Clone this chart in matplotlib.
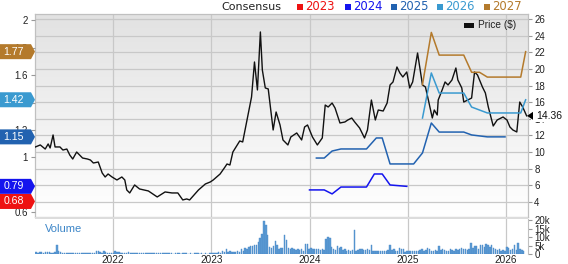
import numpy as np
import matplotlib
matplotlib.use("Agg")
import matplotlib.pyplot as plt
from matplotlib.patches import Polygon, Rectangle
from matplotlib.colors import LinearSegmentedColormap
from matplotlib.transforms import IdentityTransform

# ---------------- data ----------------
price_t = [2021.21, 2021.26, 2021.31, 2021.34, 2021.36, 2021.39, 2021.41, 2021.46, 2021.49, 2021.53,
           2021.56, 2021.59, 2021.63, 2021.66, 2021.69, 2021.74, 2021.77, 2021.80, 2021.85, 2021.89,
           2021.92, 2021.95, 2021.99, 2022.04, 2022.09, 2022.12, 2022.14, 2022.17, 2022.22, 2022.27,
           2022.36, 2022.45, 2022.53, 2022.60, 2022.66, 2022.71, 2022.75, 2022.78, 2022.87, 2022.94,
           2022.99, 2023.02, 2023.09, 2023.14, 2023.16, 2023.19, 2023.22, 2023.29, 2023.32, 2023.37,
           2023.41, 2023.44, 2023.47, 2023.50, 2023.52, 2023.55, 2023.58, 2023.63, 2023.66, 2023.70,
           2023.73, 2023.78, 2023.81, 2023.87, 2023.92, 2023.95, 2023.98, 2024.03, 2024.08, 2024.13,
           2024.16, 2024.19, 2024.23, 2024.26, 2024.31, 2024.36, 2024.39, 2024.43, 2024.46, 2024.51,
           2024.56, 2024.59, 2024.63, 2024.67, 2024.70, 2024.75, 2024.79, 2024.82, 2024.85, 2024.89,
           2024.92, 2024.95, 2024.99, 2025.02, 2025.05, 2025.10, 2025.15, 2025.18, 2025.21, 2025.25,
           2025.27, 2025.30, 2025.31, 2025.35, 2025.38, 2025.41, 2025.45, 2025.49, 2025.51, 2025.55,
           2025.57, 2025.61, 2025.65, 2025.68, 2025.71, 2025.76, 2025.79, 2025.82, 2025.87, 2025.91,
           2025.97, 2026.01, 2026.04, 2026.07, 2026.11, 2026.14, 2026.17, 2026.21]
price_v = [10.62, 10.86, 10.37, 10.98, 10.50, 12.06, 10.62, 10.62, 10.25, 10.37,
           9.65, 9.17, 10.01, 9.65, 9.29, 9.17, 9.05, 8.69, 8.81, 7.49,
           7.01, 7.37, 7.01, 6.65, 7.01, 6.65, 5.45, 5.09, 6.05, 5.57,
           5.33, 4.61, 5.21, 5.09, 5.09, 4.25, 4.37, 4.25, 5.45, 6.17,
           6.41, 6.65, 7.37, 8.21, 8.57, 8.45, 10.01, 11.34, 11.22, 14.22,
           16.62, 20.83, 17.47, 24.44, 19.87, 17.71, 17.59, 12.66, 14.82, 13.26,
           11.46, 10.86, 11.82, 12.30, 11.46, 13.02, 13.26, 11.82, 10.86, 11.70,
           15.66, 15.42, 15.90, 15.30, 13.50, 13.62, 13.86, 14.10, 13.62, 12.90,
           11.70, 12.66, 16.26, 13.86, 15.06, 14.94, 15.90, 18.07, 18.43, 20.23,
           19.51, 19.03, 19.63, 17.71, 18.43, 21.91, 18.07, 17.83, 16.26, 14.10,
           15.06, 14.46, 16.26, 17.47, 18.43, 18.07, 18.67, 20.11, 18.67, 17.71,
           16.02, 16.26, 16.50, 19.63, 19.27, 17.83, 17.11, 15.42, 13.14, 13.86,
           14.22, 13.86, 13.02, 12.66, 12.42, 16.02, 15.42, 14.36]

eps27_t = [2025.15, 2025.24, 2025.32, 2025.57, 2025.65, 2025.73, 2025.81, 2026.15, 2026.20]
eps27_v = [1.53, 1.91, 1.745, 1.745, 1.62, 1.62, 1.585, 1.585, 1.77]
eps26_t = [2025.15, 2025.24, 2025.32, 2025.57, 2025.65, 2025.81, 2026.15, 2026.20]
eps26_v = [1.287, 1.615, 1.469, 1.469, 1.367, 1.324, 1.324, 1.42]
eps25_t = [2024.07, 2024.15, 2024.23, 2024.32, 2024.58, 2024.68, 2024.74, 2024.82, 2025.06,
           2025.15, 2025.24, 2025.32, 2025.57, 2025.65, 2025.81, 2025.99]
eps25_v = [0.996, 0.996, 1.047, 1.062, 1.062, 1.142, 1.142, 0.953, 0.953,
           1.033, 1.251, 1.185, 1.185, 1.164, 1.15, 1.15]
eps24_t = [2024.00, 2024.15, 2024.23, 2024.32, 2024.58, 2024.66, 2024.74, 2024.82, 2024.99]
eps24_v = [0.764, 0.764, 0.735, 0.785, 0.785, 0.88, 0.88, 0.80, 0.79]

consensus_years = ["2023", "2024", "2025", "2026", "2027"]
consensus_last = [0.68, 0.79, 1.15, 1.42, 1.77]
last_price = 14.36

vol_start = 2021.21
vol_2021 = [1.0, 0.8, 1.2, 0.9, 0.7, 1.1, 0.9, 1.0, 0.8, 0.6, 0.9, 5.3, 1.5, 1.0, 0.8, 0.7, 0.6, 0.5, 0.6, 0.5,
            0.4, 0.5, 0.6, 0.5, 0.4, 0.5, 0.4, 0.5, 0.6, 0.5, 0.7, 0.6, 1.8, 2.0, 1.2, 0.8, 1.5, 0.9, 0.6, 0.5, 0.6]
vol_2022 = [0.8, 1.8, 1.0, 0.9, 0.7, 0.8, 0.6, 0.7, 0.9, 0.6, 0.5, 0.6, 0.5, 0.4, 0.5, 0.4, 0.6, 0.5, 0.4, 0.3,
            0.4, 0.5, 0.6, 0.4, 0.3, 0.5, 0.4, 0.3, 0.4, 0.3, 0.4, 0.3, 0.2, 0.3, 0.4, 0.3, 0.2, 0.3, 0.4, 0.3,
            0.2, 0.3, 0.2, 0.3, 0.4, 0.3, 0.2, 0.3, 0.2, 0.3, 0.2, 0.3]
vol_2023 = [0.3, 0.5, 0.4, 0.8, 1.0, 0.8, 2.0, 1.2, 3.0, 1.0, 1.5, 1.2, 1.0, 1.2, 1.5, 1.2, 3.0, 2.0, 3.5, 2.8,
            4.0, 4.5, 5.0, 5.5, 5.5, 7.0, 9.5, 12.0, 19.5, 17.0, 11.0, 4.0, 3.5, 5.0, 7.5, 5.5, 3.0, 3.5, 3.5, 11.0,
            8.0, 3.5, 3.0, 3.5, 3.0, 2.5, 3.0, 2.5, 3.0, 2.0, 6.0, 6.0]
vol_2024 = [3.0, 3.5, 3.0, 3.0, 3.0, 3.0, 2.5, 3.0, 2.5, 9.0, 10.0, 9.5, 4.0, 3.0, 2.5, 4.5, 3.5, 4.0, 2.5, 3.0,
            2.0, 2.5, 2.0, 2.5, 14.0, 2.0, 2.5, 3.0, 2.8, 2.5, 2.5, 3.0, 2.5, 5.5, 2.0, 1.5, 1.5, 1.5, 1.5, 1.8,
            1.8, 1.8, 2.5, 5.5, 2.5, 3.0, 2.0, 2.0, 3.5, 3.0, 3.0, 1.0]
vol_2025 = [1.5, 1.5, 1.5, 1.8, 1.8, 2.0, 2.0, 2.5, 3.0, 2.0, 2.5, 3.5, 3.0, 2.0, 2.0, 2.5, 2.0, 5.0, 2.5, 3.0,
            2.5, 2.0, 2.0, 3.0, 2.5, 2.0, 3.0, 2.5, 3.0, 3.5, 3.0, 3.0, 2.5, 3.0, 6.5, 3.5, 5.0, 4.5, 3.0, 5.5,
            5.5, 4.0, 6.0, 5.5, 4.0, 5.5, 3.5, 3.0, 2.5, 3.0, 2.0, 2.5]
vol_2026 = [2.0, 4.0, 3.5, 2.5, 3.0, 5.5, 2.5, 6.5, 3.0, 2.5, 2.0]

# ---------------- style ----------------
W, H = 568, 264
C23, C24, C25, C26, C27 = "#ee1111", "#1414ee", "#2262b0", "#3a9ad0", "#b47a2c"
cons_colors = [C23, C24, C25, C26, C27]
GRID = "#c8c8c8"
FONT = "Liberation Sans"
plt.rcParams["font.family"] = [FONT, "DejaVu Sans"]

fig = plt.figure(figsize=(W / 100, H / 100), dpi=100)
fig.patch.set_facecolor("white")

# main price panel
ax = fig.add_axes([35 / W, 1 - 217 / H, 493 / W, 203 / H])
grad = np.linspace(0, 1, 256).reshape(-1, 1)
cmap = LinearSegmentedColormap.from_list("g", ["#ffffff", "#e2e2e2"])
ax.imshow(grad, cmap=cmap, extent=[0, 1, 0, 1], transform=ax.transAxes,
          aspect="auto", origin="lower", zorder=0)
ax.set_xlim(2021.206, 2026.224)
ax.set_ylim(2.2, 26.6)

years = [2022, 2023, 2024, 2025, 2026]
price_ticks = list(range(4, 27, 2))
for yv in price_ticks:
    ax.axhline(yv, color=GRID, lw=0.9, zorder=1)
for xv in years:
    ax.axvline(xv, color=GRID, lw=0.9, zorder=1)
ax.plot(price_t, price_v, color="#111111", lw=1.0, zorder=3)

ax.set_xticks(years)
ax.tick_params(axis="x", length=0, labelbottom=False)
ax.set_yticks(price_ticks)
ax.yaxis.tick_right()
ax.tick_params(axis="y", length=3, width=0.8, color="#999999", pad=1.5,
               labelsize=7, labelcolor="#222222")
for s in ax.spines.values():
    s.set_color("#c0c0c0")
    s.set_linewidth(0.9)

# EPS consensus axis
ax_eps = ax.twinx()
ax_eps.set_ylim(0.567, 2.044)
ax_eps.yaxis.tick_left()
ax_eps.yaxis.set_label_position("left")
ax.yaxis.tick_right()
eps_ticks = [0.6, 0.8, 1.0, 1.2, 1.4, 1.6, 1.8, 2.0]
ax_eps.set_yticks(eps_ticks)
ax_eps.set_yticklabels(["%g" % v for v in eps_ticks])
ax_eps.tick_params(axis="y", length=3, width=0.8, color="#999999", pad=2,
                   labelsize=7, labelcolor="#222222")
for s in ax_eps.spines.values():
    s.set_visible(False)
ax_eps.plot(eps24_t, eps24_v, color=C24, lw=1.1)
ax_eps.plot(eps25_t, eps25_v, color=C25, lw=1.1)
ax_eps.plot(eps26_t, eps26_v, color=C26, lw=1.1)
ax_eps.plot(eps27_t, eps27_v, color=C27, lw=1.1)

# volume panel
vax = fig.add_axes([35 / W, 1 - 254 / H, 493 / W, 35 / H])
vol = vol_2021 + vol_2022 + vol_2023 + vol_2024 + vol_2025 + vol_2026
vol_t = vol_start + np.arange(len(vol)) / 52.18
vax.set_xlim(2021.206, 2026.224)
vax.set_ylim(0, 20.6)
for xv in years:
    vax.axvline(xv, color=GRID, lw=0.9, zorder=0)
vax.bar(vol_t, vol, width=0.75 / 52.18, color="#5b9bd5", edgecolor="#4a88c6",
        linewidth=0.3, align="edge", zorder=2)
vax.set_xticks(years)
vax.set_xticklabels([str(y) for y in years])
vax.tick_params(axis="x", length=0, pad=0.8, labelsize=7.2, labelcolor="#222222")
vax.yaxis.tick_right()
vax.set_yticks([0, 5, 10, 15, 20])
vax.set_yticklabels(["0", "5k", "10k", "15k", "20k"])
vax.tick_params(axis="y", length=3, width=0.8, color="#999999", pad=1.5,
                labelsize=7, labelcolor="#222222")
for k, s in vax.spines.items():
    s.set_visible(k == "right")
    s.set_color("#c0c0c0")
vax.text(0.02, 0.7, "Volume", transform=vax.transAxes, color="#3d86c8",
         fontsize=8, va="center", ha="left")

# separator band between panels
fig.add_artist(Rectangle((35 / W, 1 - 219 / H), 493 / W, 2.5 / H,
                         transform=fig.transFigure, facecolor="#dcdcdc",
                         edgecolor="none", zorder=5))

# consensus tags on the left
ident = IdentityTransform()
for lab_val, col in zip(consensus_last, cons_colors):
    yd = ax_eps.transData.transform((2022, lab_val))[1]
    pts = [(0, yd - 7.5), (31, yd - 7.5), (35, yd), (31, yd + 7.5), (0, yd + 7.5)]
    fig.add_artist(Polygon(pts, closed=True, transform=ident, facecolor=col,
                           edgecolor="none", zorder=6))
    fig.text(3.5 / W, yd / H, "%.2f" % lab_val, color="white", fontsize=7.6,
             va="center", ha="left", zorder=7)

# last price tag on the right
yd = ax.transData.transform((2022, last_price))[1]
fig.add_artist(Rectangle((531, yd - 6), 36, 12, transform=ident,
                         facecolor="white", edgecolor="none", zorder=6))
fig.add_artist(Polygon([(527, yd), (533, yd - 4), (533, yd + 4)], closed=True,
                       transform=ident, facecolor="black", edgecolor="none", zorder=7))
fig.text(536 / W, yd / H, "%.2f" % last_price, color="#111111", fontsize=7.5,
         va="center", ha="left", zorder=8)

# top legend
fig.text(281 / W, 1 - 6.5 / H, "Consensus", color="#222222", fontsize=8,
         family="DejaVu Sans", va="center", ha="right")
sq_x = [297, 345, 391, 437, 484]
for xs, yr, col in zip(sq_x, consensus_years, cons_colors):
    fig.add_artist(Rectangle((xs, H - 9.5), 6, 6, transform=ident,
                             facecolor=col, edgecolor="none"))
    fig.text((xs + 8.5) / W, 1 - 6.5 / H, yr, color=col, fontsize=8.4,
             family="DejaVu Sans", va="center", ha="left")

# price legend inside plot
fig.add_artist(Rectangle((464, H - 28), 10, 5, transform=ident,
                         facecolor="#111111", edgecolor="none", zorder=6))
fig.text(478 / W, 1 - 25.5 / H, "Price ($)", color="#222222", fontsize=7.3,
         va="center", ha="left", zorder=7)

fig.savefig("out.png", dpi=100)
